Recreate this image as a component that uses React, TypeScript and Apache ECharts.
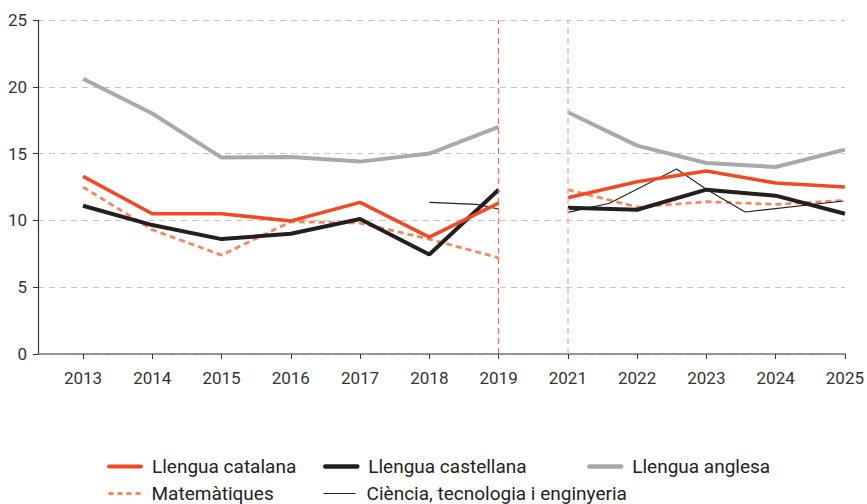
import React, { useEffect, useRef } from "react";
import * as echarts from "echarts";

const years = ["2013", "2014", "2015", "2016", "2017", "2018", "2019", "2021", "2022", "2023", "2024", "2025"];
const catalana = [13.3, 10.5, 10.5, 9.95, 11.35, 8.75, 11.3, 11.7, 12.9, 13.7, 12.8, 12.5];
const castellana = [11.1, 9.65, 8.6, 9.0, 10.1, 7.45, 12.3, 10.95, 10.8, 12.3, 11.85, 10.5];
const anglesa = [20.6, 18.0, 14.7, 14.75, 14.4, 15.0, 17.0, 18.1, 15.6, 14.3, 14.0, 15.3];
const matematiques = [12.5, 9.3, 7.4, 9.9, 9.8, 8.6, 7.2, 12.3, 11.0, 11.4, 11.2, 11.5];
// Ciència, tecnologia i enginyeria: positions on the year scale (index units) and values
const cienciaX = [5, 5.68, 6, 7, 7.6, 8.57, 9.01, 9.56, 10.98];
const cienciaY = [11.35, 11.2, 10.85, 10.6, 11.28, 13.85, 12.3, 10.63, 11.45];

const GAP_AFTER = 6; // break lines between 2019 and 2021

function toPairs(vals: number[]) {
  const out: any[] = [];
  vals.forEach((v, i) => {
    if (i === GAP_AFTER + 1) out.push([GAP_AFTER + 0.5, "-"]);
    out.push([i, v]);
  });
  return out;
}

function cienciaPairs() {
  const out: any[] = [];
  cienciaX.forEach((x, i) => {
    if (i > 0 && cienciaX[i - 1] <= GAP_AFTER && x > GAP_AFTER) out.push([GAP_AFTER + 0.5, "-"]);
    out.push([x, cienciaY[i]]);
  });
  return out;
}

function legendAt(name: string, left: number, top: number, lineStyle: any) {
  return {
    left,
    top,
    padding: 0,
    data: [{ name, lineStyle }],
    itemWidth: 32,
    itemHeight: 14,
    selectedMode: false,
    itemStyle: { opacity: 0 },
    textStyle: { fontFamily: "Roboto", fontSize: 19, lineHeight: 19, color: "#222", padding: [0, 0, 0, 6] },
  };
}

export default function App() {
  const ref = useRef<HTMLDivElement>(null);
  useEffect(() => {
    if (!ref.current) return;
    const chart = echarts.init(ref.current, null, { renderer: "svg" });
    const font = "Roboto";
    const idx = years.map((_, i) => i);
    chart.setOption({
      animation: false,
      grid: { left: 38, right: 19, top: 20, bottom: 150, containLabel: false },
      xAxis: {
        type: "value",
        min: -0.65,
        max: 11,
        splitLine: { show: false },
        axisLine: { show: true, onZero: false, lineStyle: { color: "#777", width: 1.5 } },
        axisTick: { show: true, length: 5, customValues: idx, lineStyle: { color: "#333" } },
        axisLabel: {
          customValues: idx,
          formatter: (v: number) => years[Math.round(v)] ?? "",
          fontFamily: font,
          fontSize: 17,
          color: "#333",
          margin: 15,
        },
      },
      yAxis: {
        type: "value",
        min: 0,
        max: 25,
        interval: 5,
        axisLine: { show: true, onZero: false, lineStyle: { color: "#333", width: 1.2 } },
        axisTick: { show: true, length: 5, lineStyle: { color: "#333" } },
        axisLabel: { fontFamily: font, fontSize: 17, color: "#333", margin: 11 },
        splitLine: { show: true, lineStyle: { color: "#c4c4c4", type: [6, 5], width: 1 } },
      },
      legend: [
        legendAt("Llengua catalana", 107, 457, { width: 4, cap: "round" }),
        legendAt("Llengua castellana", 323, 457, { width: 4.5, cap: "round" }),
        legendAt("Llengua anglesa", 587, 457, { width: 4.5, cap: "round" }),
        legendAt("Matemàtiques", 107, 484, { width: 3, type: [5, 4] }),
        legendAt("Ciència, tecnologia i enginyeria", 323, 484, { width: 1.2 }),
      ],
      series: [
        {
          name: "Llengua anglesa",
          type: "line",
          data: toPairs(anglesa),
          symbol: "none",
          connectNulls: false,
          lineStyle: { color: "#a9a9ac", width: 4 },
          itemStyle: { color: "#a9a9ac" },
        },
        {
          name: "Matemàtiques",
          type: "line",
          data: toPairs(matematiques),
          symbol: "none",
          connectNulls: false,
          lineStyle: { color: "#f5865f", width: 2.8, type: [6, 4] },
          itemStyle: { color: "#f5865f" },
        },
        {
          name: "Ciència, tecnologia i enginyeria",
          type: "line",
          data: cienciaPairs(),
          symbol: "none",
          connectNulls: false,
          lineStyle: { color: "#231f20", width: 1.1 },
          itemStyle: { color: "#231f20" },
        },
        {
          name: "Llengua castellana",
          type: "line",
          data: toPairs(castellana),
          symbol: "none",
          connectNulls: false,
          lineStyle: { color: "#231f20", width: 4 },
          itemStyle: { color: "#231f20" },
        },
        {
          name: "Llengua catalana",
          type: "line",
          data: toPairs(catalana),
          symbol: "none",
          connectNulls: false,
          lineStyle: { color: "#f04a24", width: 3.6 },
          itemStyle: { color: "#f04a24" },
          markLine: {
            silent: true,
            symbol: "none",
            label: { show: false },
            data: [
              { xAxis: GAP_AFTER, lineStyle: { color: "#f2694c", type: [6, 4], width: 1.2 } },
              { xAxis: GAP_AFTER + 1, lineStyle: { color: "#f7b3a3", type: [6, 4], width: 1.5 } },
            ],
          },
        },
      ],
    });
    return () => chart.dispose();
  }, []);
  return <div ref={ref} style={{ width: 867, height: 504, position: "absolute", left: 0, top: 0 }} />;
}
